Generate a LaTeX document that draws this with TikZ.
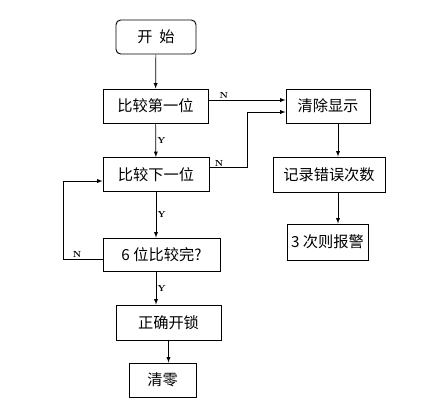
\documentclass[tikz,border=0pt]{standalone}
\usepackage{fontspec}
\newfontfamily\cjk{Noto Sans CJK SC}
\begin{document}
\begin{tikzpicture}[>=latex, x=0.03cm, y=-0.03cm, semithick,
  box/.style={draw, thick, minimum height=1.02cm, inner sep=0pt, font=\cjk\fontsize{13pt}{15pt}\selectfont},
  lab/.style={font=\fontsize{7.5pt}{8pt}\selectfont\bfseries, inner sep=1pt}]
\useasboundingbox (0,0) rectangle (444,406);
\node [box, rounded corners=4pt, minimum width=2.4cm] (start) at (156,37) {开\ \ 始};
\node [box, minimum width=3.15cm] (cmp1) at (155.5,106) {比较第一位};
\node [box, minimum width=3.18cm] (cmpn) at (156,174.5) {比较下一位};
\node [box, minimum width=3.51cm, minimum height=0.99cm] (done) at (161.5,254.5) {6 位比较完?};
\node [box, minimum width=3.15cm, minimum height=1.05cm] (open) at (168.5,322.5) {正确开锁};
\node [box, minimum width=2.01cm] (clr) at (162.5,380) {清零};
\node [box, minimum width=2.52cm] (cls) at (328,106) {清除显示};
\node [box, minimum width=3.36cm, minimum height=1.05cm] (rec) at (329,174.5) {记录错误次数};
\node [box, minimum width=2.43cm, minimum height=1.08cm] (alarm) at (327.5,242) {3 次则报警};
\draw [->] (start) -- (cmp1);
\draw [->] (cmp1) -- node [lab, right]{Y} (cmpn);
\draw [->] (cmpn.south) -- node [lab, right]{Y} (cmpn.south |- done.north);
\draw [->] (cmpn.south |- done.south) -- node [lab, right]{Y} (cmpn.south |- open.north);
\draw [->] (open.south) -- (open.south |- clr.north);
\draw [->] ([yshift=0.18cm]cmp1.east) -- node [lab, above, pos=0.2]{N} ([yshift=0.18cm]cls.west);
\draw [->] ([yshift=0.2cm]cmpn.east) -- node [lab, above, pos=0.25]{N} ++(38,0) |- ([yshift=-0.18cm]cls.west);
\draw [->] ([yshift=-0.135cm]done.west) -- node [lab, above, pos=0.65]{N} ++(-39,0) |- ([yshift=-0.195cm]cmpn.west);
\draw [->] ([xshift=0.3cm]cls.south) -- ([xshift=0.3cm]cls.south |- rec.north);
\draw [->] ([xshift=0.3cm]cls.south |- rec.south) -- ([xshift=0.3cm]cls.south |- alarm.north);
\end{tikzpicture}
\end{document}
